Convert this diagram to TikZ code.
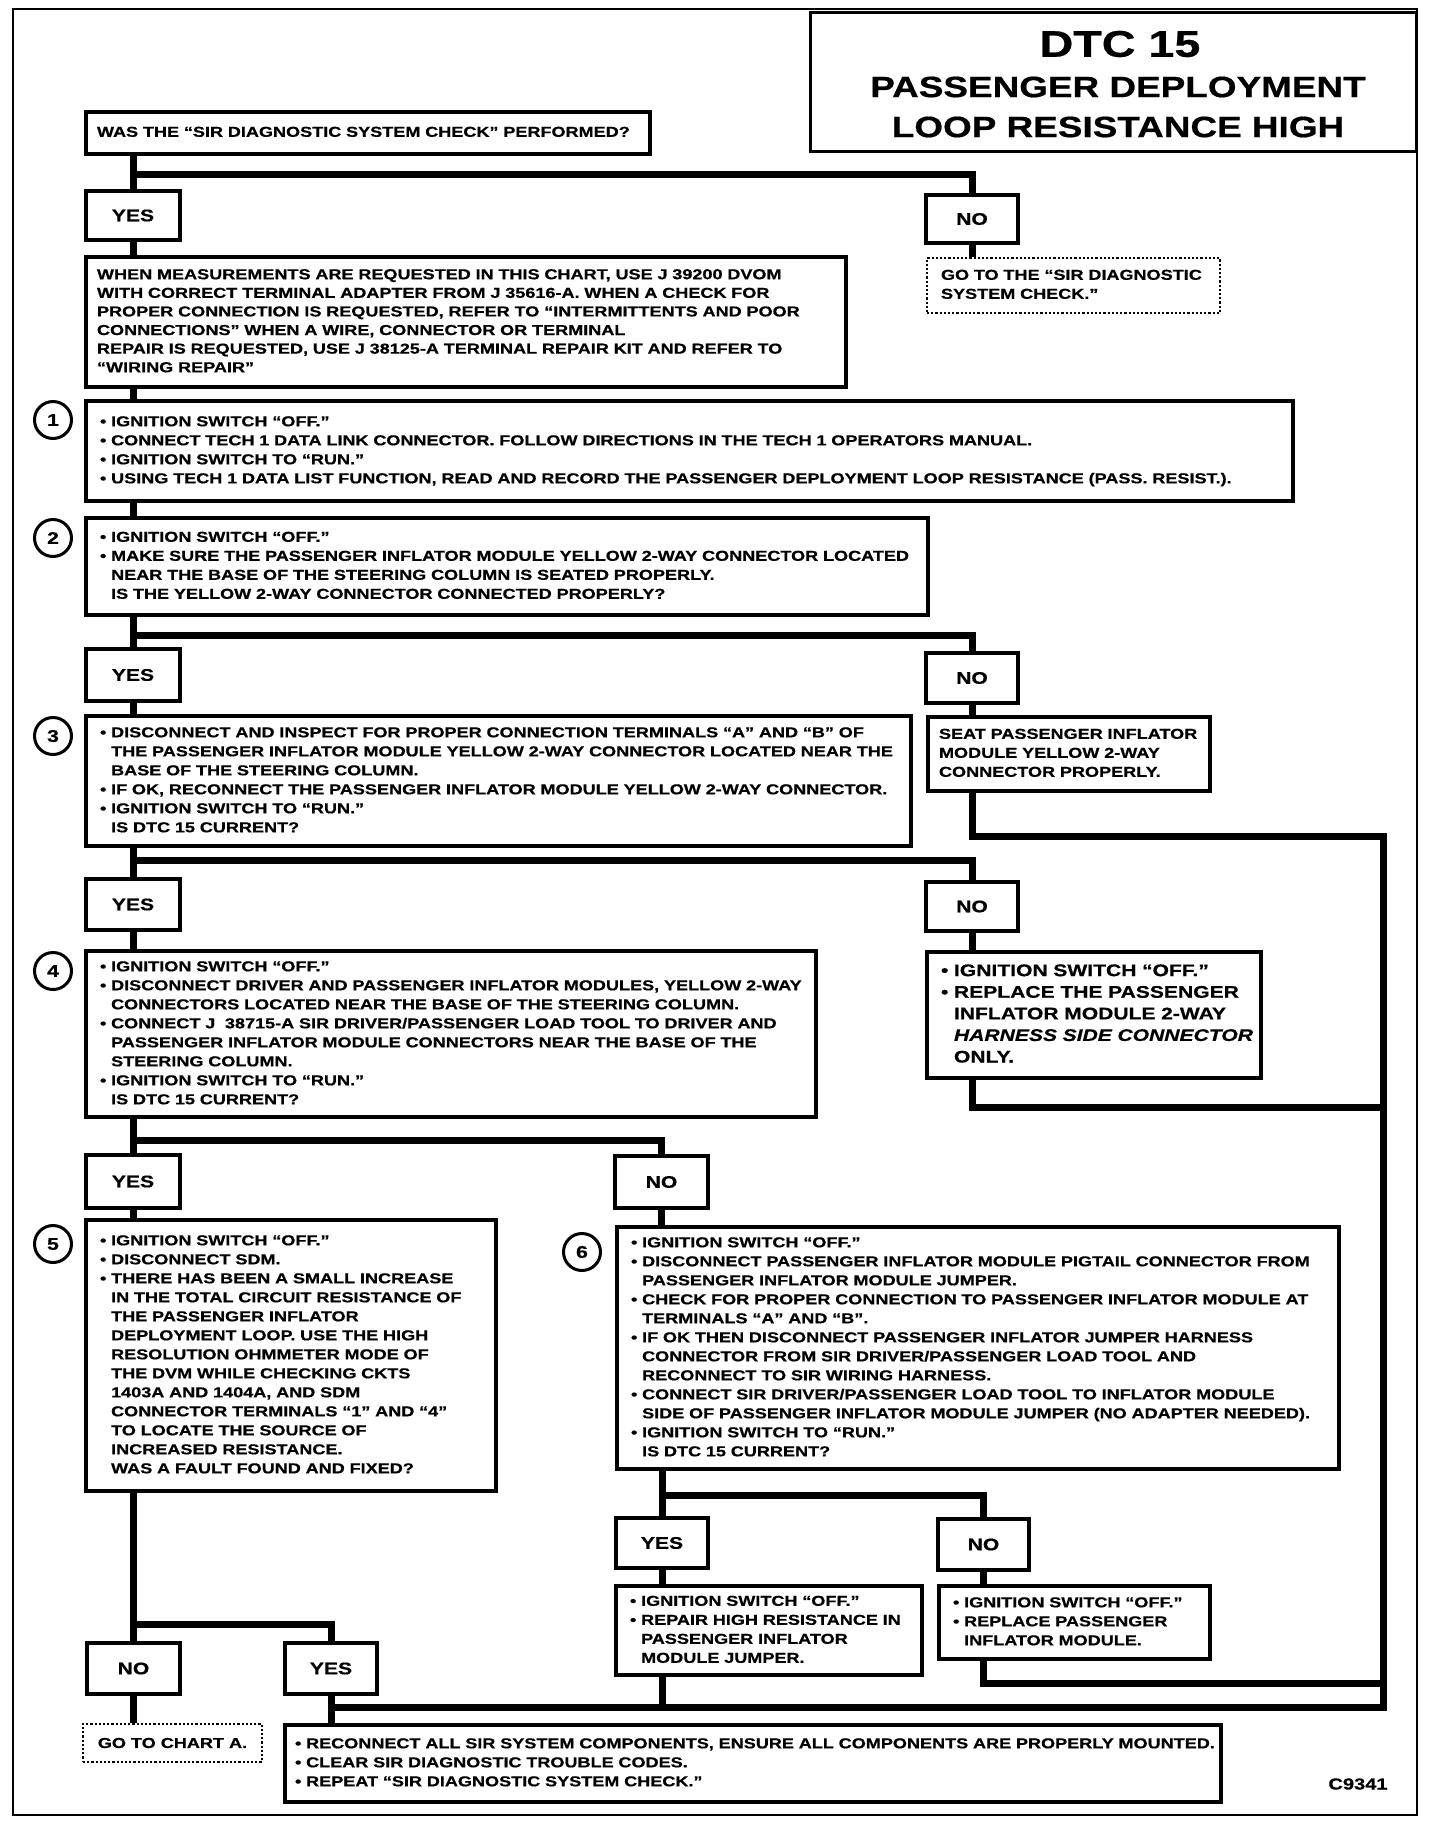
\documentclass[tikz,border=0pt]{standalone}
\usepackage{fontspec}
\setmainfont{Liberation Sans}[FakeStretch=1.255, FakeBold=0.6]
\newcommand\bul{•\ }
\newcommand\indt{\phantom{•\ }}
\newcommand\stpf{\fontsize{7.2}{9.5}\selectfont\bfseries}
\newcommand\lblf{\fontsize{8.4}{10}\selectfont\bfseries}
\newcommand\tlines[1]{\begin{tabular}{@{}l@{}}#1\end{tabular}}
\begin{document}
\begin{tikzpicture}[x=0.5pt,y=-0.5pt,
  bx/.style={draw, line width=1.7pt, fill=white, inner sep=0pt},
  lab/.style={bx, font=\lblf},
  tb/.style={bx, inner xsep=7pt, inner ysep=0pt, align=left, font=\stpf},
  db/.style={draw, line width=1.1pt, densely dotted, fill=white, inner xsep=7pt, inner ysep=0pt, align=left, font=\stpf},
  conn/.style={line width=3.5pt},
  num/.style={circle, draw, line width=1.5pt, minimum size=18.5pt, inner sep=0pt, font=\fontsize{8.5}{10}\selectfont\bfseries},
  ttl/.style={font=\fontsize{14.7}{16}\selectfont\bfseries}]
\useasboundingbox (0,0) rectangle (1440,1826);
\draw[line width=1.4pt] (13,9) rectangle (1417,1815);

% title
\node[draw, line width=1.5pt, minimum width=303pt, minimum height=69.5pt, inner sep=0pt] (title) at (1113,81.5) {};
\node[font=\fontsize{18.6}{20}\selectfont\bfseries] (t1) at (1120,44) {DTC 15};
\node[ttl] (t2) at (1118,87) {PASSENGER DEPLOYMENT};
\node[ttl] (t3) at (1118,127) {LOOP RESISTANCE HIGH};

% nodes
\node[tb, inner xsep=5.5pt, text width=271pt, minimum height=21pt] (q) at (368,133) {\tlines{WAS THE “SIR DIAGNOSTIC SYSTEM CHECK” PERFORMED?}};
\node[lab, minimum width=47pt, minimum height=24.5pt] (yes1) at (133,215.5) {YES};
\node[lab, minimum width=46pt, minimum height=24pt] (no1) at (972,219) {NO};
\node[db, text width=132.5pt, minimum height=27.5pt] (go1) at (1073.5,285.5) {\tlines{GO TO THE “SIR DIAGNOSTIC\\SYSTEM CHECK.”}};
\node[tb, inner xsep=5.5pt, text width=369pt, minimum height=65pt, font=\fontsize{7.2}{9.3}\selectfont\bfseries] (info) at (466,322) {\tlines{WHEN MEASUREMENTS ARE REQUESTED IN THIS CHART, USE J 39200 DVOM\\
WITH CORRECT TERMINAL ADAPTER FROM J 35616-A. WHEN A CHECK FOR\\
PROPER CONNECTION IS REQUESTED, REFER TO “INTERMITTENTS AND POOR\\
CONNECTIONS” WHEN A WIRE, CONNECTOR OR TERMINAL\\
REPAIR IS REQUESTED, USE J 38125-A TERMINAL REPAIR KIT AND REFER TO\\
“WIRING REPAIR”}};

\node[num] (c1) at (53,420) {1};
\node[tb, text width=589.5pt, minimum height=50pt] (s1) at (689.5,451) {\tlines{\bul IGNITION SWITCH “OFF.”\\
\bul CONNECT TECH 1 DATA LINK CONNECTOR. FOLLOW DIRECTIONS IN THE TECH 1 OPERATORS MANUAL.\\
\bul IGNITION SWITCH TO “RUN.”\\
\bul USING TECH 1 DATA LIST FUNCTION, READ AND RECORD THE PASSENGER DEPLOYMENT LOOP RESISTANCE (PASS. RESIST.).}};

\node[num] (c2) at (53,538) {2};
\node[tb, text width=407pt, minimum height=48.5pt] (s2) at (507,566.5) {\tlines{\bul IGNITION SWITCH “OFF.”\\
\bul MAKE SURE THE PASSENGER INFLATOR MODULE YELLOW 2-WAY CONNECTOR LOCATED\\
\indt NEAR THE BASE OF THE STEERING COLUMN IS SEATED PROPERLY.\\
\indt IS THE YELLOW 2-WAY CONNECTOR CONNECTED PROPERLY?}};

\node[lab, minimum width=47pt, minimum height=26pt] (yes2) at (133,675) {YES};
\node[lab, minimum width=46pt, minimum height=25pt] (no2) at (972,678) {NO};

\node[num] (c3) at (53,736) {3};
\node[tb, text width=398.5pt, minimum height=65pt] (s3) at (498.5,781) {\tlines{\bul DISCONNECT AND INSPECT FOR PROPER CONNECTION TERMINALS “A” AND “B” OF\\
\indt THE PASSENGER INFLATOR MODULE YELLOW 2-WAY CONNECTOR LOCATED NEAR THE\\
\indt BASE OF THE STEERING COLUMN.\\
\bul IF OK, RECONNECT THE PASSENGER INFLATOR MODULE YELLOW 2-WAY CONNECTOR.\\
\bul IGNITION SWITCH TO “RUN.”\\
\indt IS DTC 15 CURRENT?}};
\node[tb, inner xsep=5.5pt, text width=130pt, minimum height=37pt] (seat) at (1069,754) {\tlines{SEAT PASSENGER INFLATOR\\MODULE YELLOW 2-WAY\\CONNECTOR PROPERLY.}};

\node[lab, minimum width=47pt, minimum height=25.5pt] (yes3) at (133,904.5) {YES};
\node[lab, minimum width=46pt, minimum height=24.5pt] (no3) at (972,906.5) {NO};

\node[num] (c4) at (53,971) {4};
\node[tb, text width=351pt, minimum height=83pt] (s4) at (451,1034) {\tlines{\bul IGNITION SWITCH “OFF.”\\
\bul DISCONNECT DRIVER AND PASSENGER INFLATOR MODULES, YELLOW 2-WAY\\
\indt CONNECTORS LOCATED NEAR THE BASE OF THE STEERING COLUMN.\\
\bul CONNECT J\ \ 38715-A SIR DRIVER/PASSENGER LOAD TOOL TO DRIVER AND\\
\indt PASSENGER INFLATOR MODULE CONNECTORS NEAR THE BASE OF THE\\
\indt STEERING COLUMN.\\
\bul IGNITION SWITCH TO “RUN.”\\
\indt IS DTC 15 CURRENT?}};
\node[tb, text width=153pt, minimum height=63pt, font=\fontsize{8.4}{10.8}\selectfont\bfseries] (ign4) at (1094,1015) {\tlines{\bul IGNITION SWITCH “OFF.”\\
\bul REPLACE THE PASSENGER\\
\indt INFLATOR MODULE 2-WAY\\
\indt \textit{HARNESS SIDE CONNECTOR}\\
\indt ONLY.}};

\node[lab, minimum width=47pt, minimum height=26.5pt] (yes4) at (133,1181.5) {YES};
\node[lab, minimum width=46.5pt, minimum height=26pt] (no4) at (661.5,1182) {NO};

\node[num] (c5) at (53,1244) {5};
\node[tb, text width=191pt, minimum height=135.5pt] (s5) at (291,1355.5) {\tlines{\bul IGNITION SWITCH “OFF.”\\
\bul DISCONNECT SDM.\\
\bul THERE HAS BEEN A SMALL INCREASE\\
\indt IN THE TOTAL CIRCUIT RESISTANCE OF\\
\indt THE PASSENGER INFLATOR\\
\indt DEPLOYMENT LOOP. USE THE HIGH\\
\indt RESOLUTION OHMMETER MODE OF\\
\indt THE DVM WHILE CHECKING CKTS\\
\indt 1403A AND 1404A, AND SDM\\
\indt CONNECTOR TERMINALS “1” AND “4”\\
\indt TO LOCATE THE SOURCE OF\\
\indt INCREASED RESISTANCE.\\
\indt WAS A FAULT FOUND AND FIXED?}};

\node[num] (c6) at (582,1252) {6};
\node[tb, text width=347pt, minimum height=121pt] (s6) at (978,1348) {\tlines{\bul IGNITION SWITCH “OFF.”\\
\bul DISCONNECT PASSENGER INFLATOR MODULE PIGTAIL CONNECTOR FROM\\
\indt PASSENGER INFLATOR MODULE JUMPER.\\
\bul CHECK FOR PROPER CONNECTION TO PASSENGER INFLATOR MODULE AT\\
\indt TERMINALS “A” AND “B”.\\
\bul IF OK THEN DISCONNECT PASSENGER INFLATOR JUMPER HARNESS\\
\indt CONNECTOR FROM SIR DRIVER/PASSENGER LOAD TOOL AND\\
\indt RECONNECT TO SIR WIRING HARNESS.\\
\bul CONNECT SIR DRIVER/PASSENGER LOAD TOOL TO INFLATOR MODULE\\
\indt SIDE OF PASSENGER INFLATOR MODULE JUMPER (NO ADAPTER NEEDED).\\
\bul IGNITION SWITCH TO “RUN.”\\
\indt IS DTC 15 CURRENT?}};

\node[lab, minimum width=46pt, minimum height=25pt] (yes6) at (662,1543) {YES};
\node[lab, minimum width=45.5pt, minimum height=25.5pt] (no6) at (983.5,1544.5) {NO};
\node[tb, text width=139pt, minimum height=44.5pt] (r6y) at (769,1630.5) {\tlines{\bul IGNITION SWITCH “OFF.”\\
\bul REPAIR HIGH RESISTANCE IN\\
\indt PASSENGER INFLATOR\\
\indt MODULE JUMPER.}};
\node[tb, text width=121.5pt, minimum height=36.5pt] (r6n) at (1074.5,1622.5) {\tlines{\bul IGNITION SWITCH “OFF.”\\
\bul REPLACE PASSENGER\\
\indt INFLATOR MODULE.}};

\node[lab, minimum width=46.5pt, minimum height=25.5pt] (no5) at (133.5,1668.5) {NO};
\node[lab, minimum width=46pt, minimum height=25.5pt] (yes5) at (331,1668.5) {YES};
\node[db, inner xsep=0pt, minimum width=89.5pt, minimum height=19pt, align=center] (goA) at (172.5,1743) {GO TO CHART A.};
\node[tb, inner xsep=5pt, text width=458pt, minimum height=38.5pt] (fin) at (753,1763.5) {\tlines{\bul RECONNECT ALL SIR SYSTEM COMPONENTS, ENSURE ALL COMPONENTS ARE PROPERLY MOUNTED.\\
\bul CLEAR SIR DIAGNOSTIC TROUBLE CODES.\\
\bul REPEAT “SIR DIAGNOSTIC SYSTEM CHECK.”}};
\node[font=\fontsize{8}{10}\selectfont\bfseries] (code) at (1358,1784) {C9341};

% coordinates
\coordinate (b1) at (133,174);
\coordinate (b2) at (133,635);
\coordinate (b3) at (133,860);
\coordinate (b4) at (133,1140);
\coordinate (b6) at (662,1495);
\coordinate (b5) at (133,1624);
\coordinate (lp1) at (1383,836);
\coordinate (lp2) at (1383,1707);
\coordinate (lp3) at (1383,1107);
\coordinate (lp4) at (1383,1683);

% connectors
\draw[conn] (q.south -| yes1) -- (yes1.north);
\draw[conn] (b1) -| (no1.north);
\draw[conn] (no1.south) -- (go1.north -| no1);
\draw[conn] (yes1.south) -- (info.north -| yes1);
\draw[conn] (info.south -| yes1) -- (s1.north -| yes1);
\draw[conn] (s1.south -| yes1) -- (s2.north -| yes1);
\draw[conn] (s2.south -| yes2) -- (yes2.north);
\draw[conn] (b2) -| (no2.north);
\draw[conn] (yes2.south) -- (s3.north -| yes2);
\draw[conn] (no2.south) -- (seat.north -| no2);
\draw[conn] (seat.south -| no2) |- (lp1) -- (lp2) -| (fin.north -| yes5);
\draw[conn] (s3.south -| yes3) -- (yes3.north);
\draw[conn] (b3) -| (no3.north);
\draw[conn] (no3.south) -- (ign4.north -| no3);
\draw[conn] (ign4.south -| no3) |- (lp3);
\draw[conn] (yes3.south) -- (s4.north -| yes3);
\draw[conn] (s4.south -| yes4) -- (yes4.north);
\draw[conn] (b4) -| (no4.north);
\draw[conn] (yes4.south) -- (s5.north -| yes4);
\draw[conn] (no4.south) -- (s6.north -| no4);
\draw[conn] (s6.south -| yes6) -- (yes6.north);
\draw[conn] (b6) -| (no6.north);
\draw[conn] (yes6.south) -- (r6y.north -| yes6);
\draw[conn] (no6.south) -- (r6n.north -| no6);
\draw[conn] (r6y.south -| yes6) -- (lp2 -| yes6);
\draw[conn] (r6n.south -| no6) |- (lp4);
\draw[conn] (s5.south -| no5) -- (no5.north);
\draw[conn] (b5) -| (yes5.north);
\draw[conn] (no5.south) -- (goA.north -| no5);
\draw[conn] (yes5.south) -- (fin.north -| yes5);
\end{tikzpicture}
\end{document}
